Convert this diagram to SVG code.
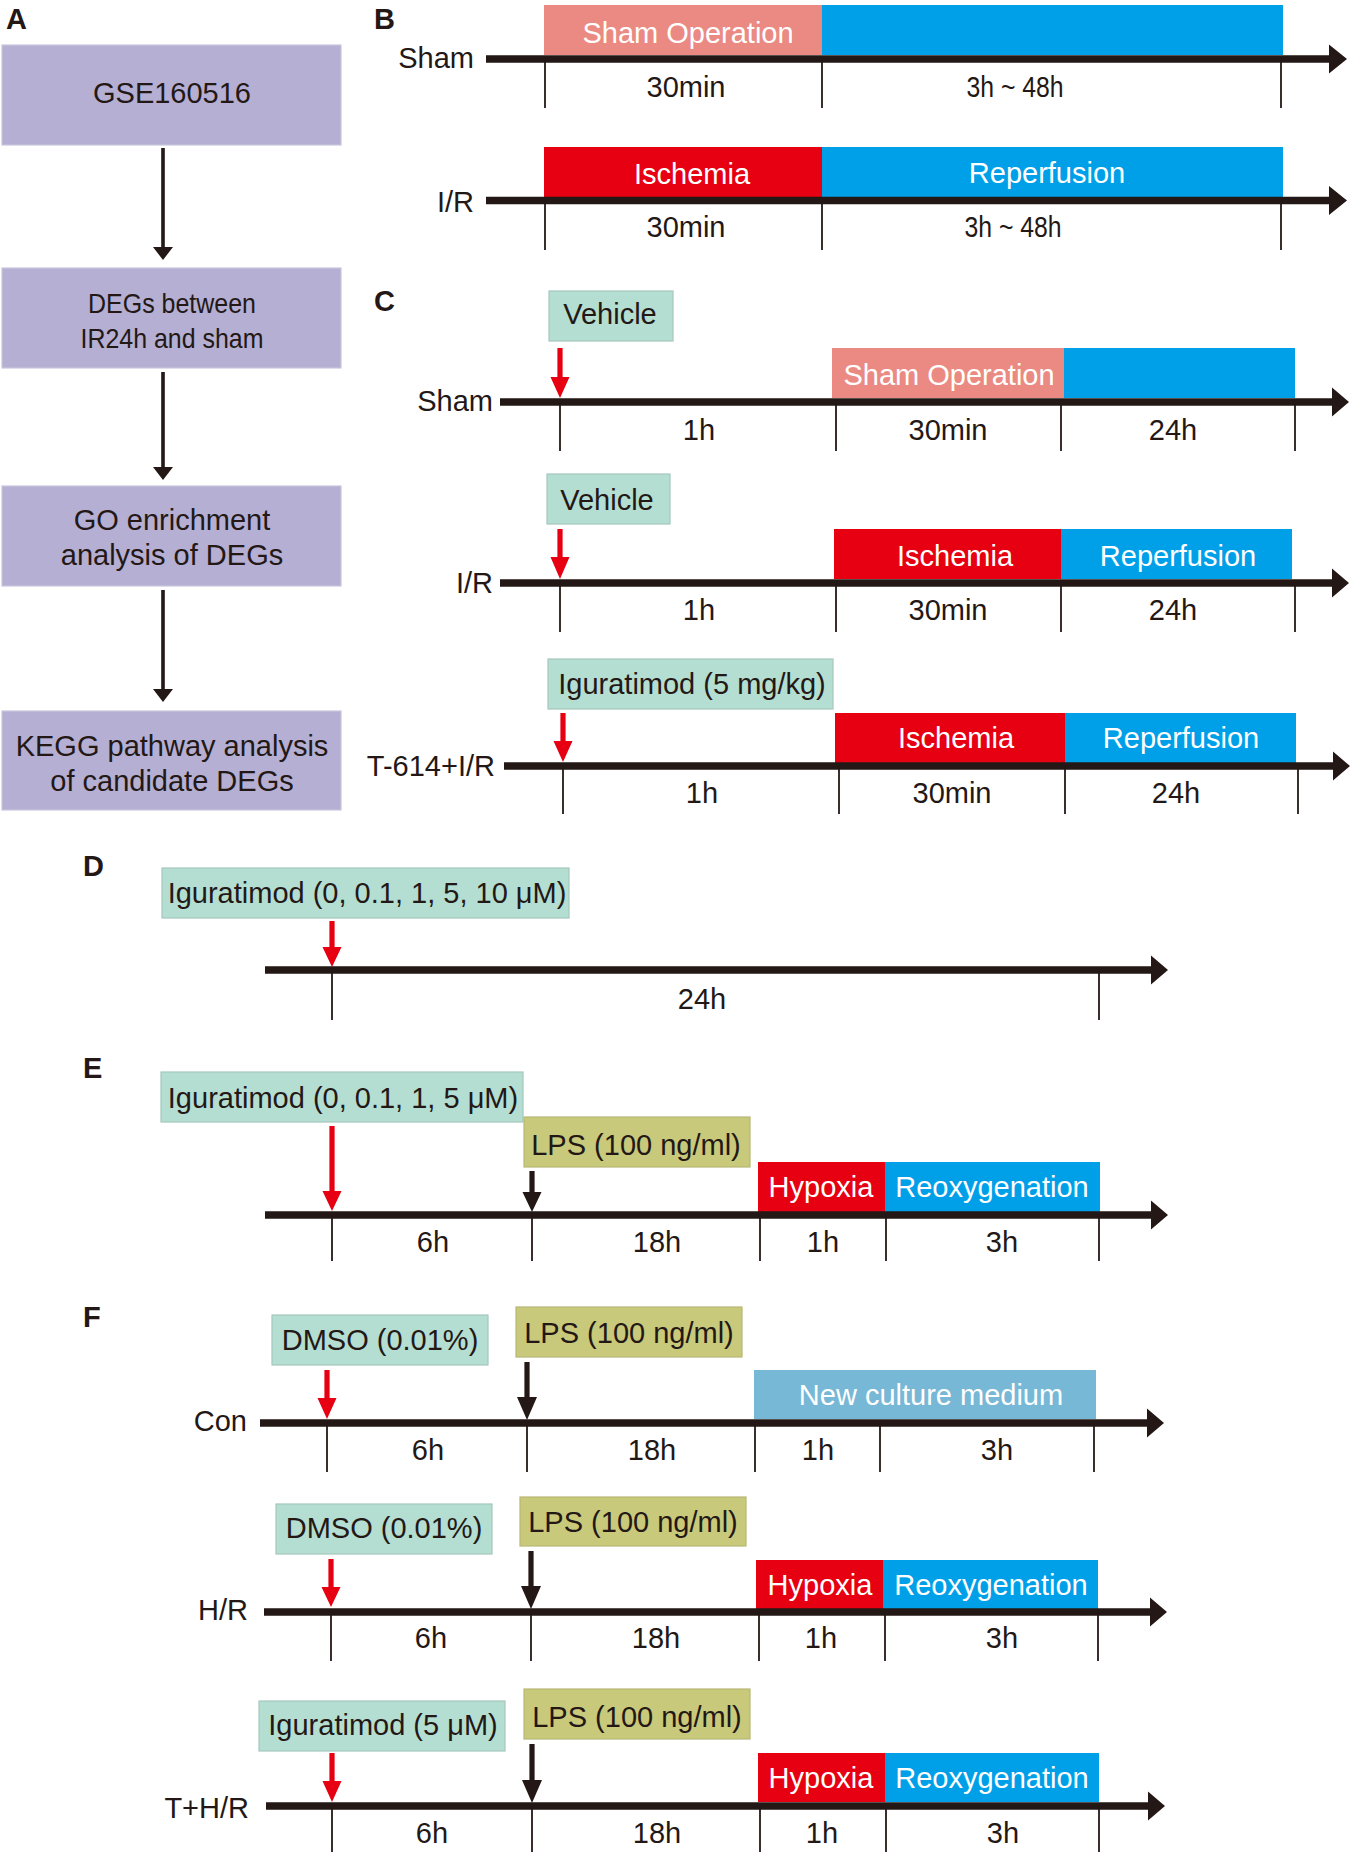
<svg xmlns="http://www.w3.org/2000/svg" width="1355" height="1858" viewBox="0 0 1355 1858">
<style>
text{font-family:"Liberation Sans",Arial,Helvetica,sans-serif;font-size:29px;fill:#231815}
.w{fill:#fff}
.m{text-anchor:middle}
.e{text-anchor:end}
.lbl{font-weight:bold;font-size:29px}
.tk{stroke:#231815;stroke-width:1.8}
.ax{fill:#231815}
.ra{fill:#e60012}
.ba{fill:#231815}
.teal{fill:#b4ded2;stroke:#a6c7bd;stroke-width:1.2}
.olive{fill:#c9c97b;stroke:#b8b775;stroke-width:1.2}
.lav{fill:#b4afd3;stroke:#c9c6de;stroke-width:1.2}
.pink{fill:#ea8a82}
.blue{fill:#00a0e9}
.red{fill:#e60012}
.ncm{fill:#76b8d6}
</style>
<rect width="1355" height="1858" fill="#fff"/>

<!-- Panel labels -->
<text class="lbl" x="6" y="29">A</text>
<text class="lbl" x="374" y="29">B</text>
<text class="lbl" x="374" y="311">C</text>
<text class="lbl" x="83" y="876">D</text>
<text class="lbl" x="83" y="1078">E</text>
<text class="lbl" x="83" y="1327">F</text>

<!-- Panel A nodes -->
<g id="a-gse">
<rect class="lav" x="2" y="45" width="339" height="100"/>
<text class="m" x="172" y="103">GSE160516</text>
</g>
<g id="a-degs">
<rect class="lav" x="2" y="268" width="339" height="100"/>
<text class="m" x="172" y="313" style="font-size:28px" textLength="168" lengthAdjust="spacingAndGlyphs">DEGs between</text>
<text class="m" x="172" y="348" style="font-size:28px" textLength="183" lengthAdjust="spacingAndGlyphs">IR24h and sham</text>
</g>
<g id="a-go">
<rect class="lav" x="2" y="486" width="339" height="100"/>
<text class="m" x="172" y="530">GO enrichment</text>
<text class="m" x="172" y="565">analysis of DEGs</text>
</g>
<g id="a-kegg">
<rect class="lav" x="2" y="711" width="339" height="99"/>
<text class="m" x="172" y="756">KEGG pathway analysis</text>
<text class="m" x="172" y="791">of candidate DEGs</text>
</g>
<g id="a-connectors">
<path class="ba" d="M161.2,148 H164.8 V247 H173 L163,260 L153,247 H161.2 Z"/>
<path class="ba" d="M161.2,372 H164.8 V467 H173 L163,480 L153,467 H161.2 Z"/>
<path class="ba" d="M161.2,590 H164.8 V689 H173 L163,702 L153,689 H161.2 Z"/>
</g>

<!-- Panel B -->
<g id="b-sham">
<rect class="pink" x="544" y="5" width="278" height="50"/>
<rect class="blue" x="822" y="5" width="461" height="50"/>
<path class="ax" d="M486,55.25 H1329 V44.5 L1347,59 L1329,73.5 V62.75 H486 Z"/>
<line class="tk" x1="545" y1="59" x2="545" y2="108"/>
<line class="tk" x1="822" y1="59" x2="822" y2="108"/>
<line class="tk" x1="1281" y1="59" x2="1281" y2="108"/>
<text class="e" x="474" y="68">Sham</text>
<text class="m w" x="688" y="43">Sham Operation</text>
<text class="m" x="686" y="97">30min</text>
<text class="m" x="1015" y="97" textLength="97" lengthAdjust="spacingAndGlyphs">3h ~ 48h</text>
</g>
<g id="b-ir">
<rect class="red" x="544" y="147" width="278" height="50"/>
<rect class="blue" x="822" y="147" width="461" height="50"/>
<path class="ax" d="M486,196.75 H1329 V186 L1347,200.5 L1329,215 V204.25 H486 Z"/>
<line class="tk" x1="545" y1="200" x2="545" y2="250"/>
<line class="tk" x1="822" y1="200" x2="822" y2="250"/>
<line class="tk" x1="1281" y1="200" x2="1281" y2="250"/>
<text class="e" x="474" y="212">I/R</text>
<text class="m w" x="692" y="184">Ischemia</text>
<text class="m w" x="1047" y="183">Reperfusion</text>
<text class="m" x="686" y="237">30min</text>
<text class="m" x="1013" y="237" textLength="97" lengthAdjust="spacingAndGlyphs">3h ~ 48h</text>
</g>

<!-- Panel C -->
<g id="c-sham">
<rect class="teal" x="549" y="291" width="124" height="50"/>
<text class="m" x="610" y="324">Vehicle</text>
<path class="ra" d="M557.4,348 H562.6 V377 H569.5 L560,398 L550.5,377 H557.4 Z"/>
<rect class="pink" x="832" y="348" width="232" height="50"/>
<rect class="blue" x="1064" y="348" width="231" height="50"/>
<path class="ax" d="M500,398.25 H1332 V387.5 L1349,402 L1332,416.5 V405.75 H500 Z"/>
<line class="tk" x1="560" y1="402" x2="560" y2="451"/>
<line class="tk" x1="836" y1="402" x2="836" y2="451"/>
<line class="tk" x1="1061" y1="402" x2="1061" y2="451"/>
<line class="tk" x1="1295" y1="402" x2="1295" y2="451"/>
<text class="e" x="493" y="411">Sham</text>
<text class="m w" x="949" y="385">Sham Operation</text>
<text class="m" x="699" y="440">1h</text>
<text class="m" x="948" y="440">30min</text>
<text class="m" x="1173" y="440">24h</text>
</g>
<g id="c-ir">
<rect class="teal" x="547" y="474" width="123" height="50"/>
<text class="m" x="607" y="510">Vehicle</text>
<path class="ra" d="M557.4,529 H562.6 V557 H569.5 L560,579 L550.5,557 H557.4 Z"/>
<rect class="red" x="834" y="529" width="227" height="50"/>
<rect class="blue" x="1061" y="529" width="231" height="50"/>
<path class="ax" d="M500,579.25 H1332 V568.5 L1349,583 L1332,597.5 V586.75 H500 Z"/>
<line class="tk" x1="560" y1="583" x2="560" y2="632"/>
<line class="tk" x1="836" y1="583" x2="836" y2="632"/>
<line class="tk" x1="1061" y1="583" x2="1061" y2="632"/>
<line class="tk" x1="1295" y1="583" x2="1295" y2="632"/>
<text class="e" x="493" y="593">I/R</text>
<text class="m w" x="955" y="566">Ischemia</text>
<text class="m w" x="1178" y="566">Reperfusion</text>
<text class="m" x="699" y="620">1h</text>
<text class="m" x="948" y="620">30min</text>
<text class="m" x="1173" y="620">24h</text>
</g>
<g id="c-t614">
<rect class="teal" x="548" y="659" width="285" height="50"/>
<text class="m" x="692" y="694">Iguratimod (5 mg/kg)</text>
<path class="ra" d="M560.4,713 H565.6 V741 H572.5 L563,762 L553.5,741 H560.4 Z"/>
<rect class="red" x="835" y="713" width="230" height="50"/>
<rect class="blue" x="1065" y="713" width="231" height="50"/>
<path class="ax" d="M504,762.25 H1333 V751.5 L1350,766 L1333,780.5 V769.75 H504 Z"/>
<line class="tk" x1="563" y1="766" x2="563" y2="814"/>
<line class="tk" x1="839" y1="766" x2="839" y2="814"/>
<line class="tk" x1="1065" y1="766" x2="1065" y2="814"/>
<line class="tk" x1="1298" y1="766" x2="1298" y2="814"/>
<text class="e" x="495" y="776">T-614+I/R</text>
<text class="m w" x="956" y="748">Ischemia</text>
<text class="m w" x="1181" y="748">Reperfusion</text>
<text class="m" x="702" y="803">1h</text>
<text class="m" x="952" y="803">30min</text>
<text class="m" x="1176" y="803">24h</text>
</g>

<!-- Panel D -->
<g id="d-row">
<rect class="teal" x="162" y="868" width="407" height="50"/>
<text class="m" x="367" y="903">Iguratimod (0, 0.1, 1, 5, 10 μM)</text>
<path class="ra" d="M329.4,921 H334.6 V947 H341.5 L332,967 L322.5,947 H329.4 Z"/>
<path class="ax" d="M265,966.25 H1151 V955.5 L1168,970 L1151,984.5 V973.75 H265 Z"/>
<line class="tk" x1="332" y1="970" x2="332" y2="1020"/>
<line class="tk" x1="1099" y1="970" x2="1099" y2="1020"/>
<text class="m" x="702" y="1009">24h</text>
</g>

<!-- Panel E -->
<g id="e-row">
<rect class="teal" x="161" y="1072" width="362" height="50"/>
<text class="m" x="343" y="1108">Iguratimod (0, 0.1, 1, 5 μM)</text>
<path class="ra" d="M329.4,1126 H334.6 V1191 H341.5 L332,1211 L322.5,1191 H329.4 Z"/>
<rect class="olive" x="524" y="1117" width="226" height="50"/>
<text class="m" x="636" y="1155">LPS (100 ng/ml)</text>
<path class="ba" d="M529.4,1171 H534.6 V1192 H541.5 L532,1212 L522.5,1192 H529.4 Z"/>
<rect class="red" x="758" y="1162" width="127" height="50"/>
<rect class="blue" x="885" y="1162" width="215" height="50"/>
<path class="ax" d="M265,1211.25 H1151 V1200.5 L1168,1215 L1151,1229.5 V1218.75 H265 Z"/>
<line class="tk" x1="332" y1="1215" x2="332" y2="1261"/>
<line class="tk" x1="532" y1="1215" x2="532" y2="1261"/>
<line class="tk" x1="760" y1="1215" x2="760" y2="1261"/>
<line class="tk" x1="886" y1="1215" x2="886" y2="1261"/>
<line class="tk" x1="1099" y1="1215" x2="1099" y2="1261"/>
<text class="m w" x="821" y="1197">Hypoxia</text>
<text class="m w" x="992" y="1197">Reoxygenation</text>
<text class="m" x="433" y="1252">6h</text>
<text class="m" x="657" y="1252">18h</text>
<text class="m" x="823" y="1252">1h</text>
<text class="m" x="1002" y="1252">3h</text>
</g>

<!-- Panel F -->
<g id="f-con">
<rect class="teal" x="272" y="1315" width="216" height="50"/>
<text class="m" x="380" y="1350">DMSO (0.01%)</text>
<rect class="olive" x="516" y="1307" width="226" height="50"/>
<text class="m" x="629" y="1343">LPS (100 ng/ml)</text>
<path class="ra" d="M324.4,1370 H329.6 V1398 H336.5 L327,1419 L317.5,1398 H324.4 Z"/>
<path class="ba" d="M524.4,1362 H529.6 V1397 H537 L527,1420 L517,1397 H524.4 Z"/>
<rect class="ncm" x="754" y="1370" width="342" height="49"/>
<path class="ax" d="M260,1419.25 H1147 V1408.5 L1164,1423 L1147,1437.5 V1426.75 H260 Z"/>
<line class="tk" x1="327" y1="1423" x2="327" y2="1472"/>
<line class="tk" x1="527" y1="1423" x2="527" y2="1472"/>
<line class="tk" x1="755" y1="1423" x2="755" y2="1472"/>
<line class="tk" x1="880" y1="1423" x2="880" y2="1472"/>
<line class="tk" x1="1094" y1="1423" x2="1094" y2="1472"/>
<text class="e" x="247" y="1431">Con</text>
<text class="m w" x="931" y="1405">New culture medium</text>
<text class="m" x="428" y="1460">6h</text>
<text class="m" x="652" y="1460">18h</text>
<text class="m" x="818" y="1460">1h</text>
<text class="m" x="997" y="1460">3h</text>
</g>
<g id="f-hr">
<rect class="teal" x="276" y="1504" width="216" height="50"/>
<text class="m" x="384" y="1538">DMSO (0.01%)</text>
<rect class="olive" x="520" y="1497" width="226" height="49"/>
<text class="m" x="633" y="1532">LPS (100 ng/ml)</text>
<path class="ra" d="M328.4,1559 H333.6 V1587 H340.5 L331,1607 L321.5,1587 H328.4 Z"/>
<path class="ba" d="M528.4,1551 H533.6 V1586 H541 L531,1609 L521,1586 H528.4 Z"/>
<rect class="red" x="756" y="1560" width="127" height="49"/>
<rect class="blue" x="883" y="1560" width="215" height="49"/>
<path class="ax" d="M264,1608.25 H1150 V1597.5 L1167,1612 L1150,1626.5 V1615.75 H264 Z"/>
<line class="tk" x1="331" y1="1612" x2="331" y2="1661"/>
<line class="tk" x1="531" y1="1612" x2="531" y2="1661"/>
<line class="tk" x1="759" y1="1612" x2="759" y2="1661"/>
<line class="tk" x1="885" y1="1612" x2="885" y2="1661"/>
<line class="tk" x1="1098" y1="1612" x2="1098" y2="1661"/>
<text class="e" x="248" y="1620">H/R</text>
<text class="m w" x="820" y="1595">Hypoxia</text>
<text class="m w" x="991" y="1595">Reoxygenation</text>
<text class="m" x="431" y="1648">6h</text>
<text class="m" x="656" y="1648">18h</text>
<text class="m" x="821" y="1648">1h</text>
<text class="m" x="1002" y="1648">3h</text>
</g>
<g id="f-thr">
<rect class="teal" x="259" y="1701" width="246" height="50"/>
<text class="m" x="383" y="1735">Iguratimod (5 μM)</text>
<rect class="olive" x="524" y="1689" width="226" height="50"/>
<text class="m" x="637" y="1727">LPS (100 ng/ml)</text>
<path class="ra" d="M329.4,1753 H334.6 V1781 H341.5 L332,1802 L322.5,1781 H329.4 Z"/>
<path class="ba" d="M529.4,1744 H534.6 V1780 H542 L532,1803 L522,1780 H529.4 Z"/>
<rect class="red" x="758" y="1753" width="127" height="49"/>
<rect class="blue" x="885" y="1753" width="214" height="49"/>
<path class="ax" d="M266,1802.25 H1148 V1791.5 L1165,1806 L1148,1820.5 V1809.75 H266 Z"/>
<line class="tk" x1="332" y1="1806" x2="332" y2="1852"/>
<line class="tk" x1="532" y1="1806" x2="532" y2="1852"/>
<line class="tk" x1="760" y1="1806" x2="760" y2="1852"/>
<line class="tk" x1="886" y1="1806" x2="886" y2="1852"/>
<line class="tk" x1="1099" y1="1806" x2="1099" y2="1852"/>
<text class="e" x="249" y="1818">T+H/R</text>
<text class="m w" x="821" y="1788">Hypoxia</text>
<text class="m w" x="992" y="1788">Reoxygenation</text>
<text class="m" x="432" y="1843">6h</text>
<text class="m" x="657" y="1843">18h</text>
<text class="m" x="822" y="1843">1h</text>
<text class="m" x="1003" y="1843">3h</text>
</g>
</svg>
